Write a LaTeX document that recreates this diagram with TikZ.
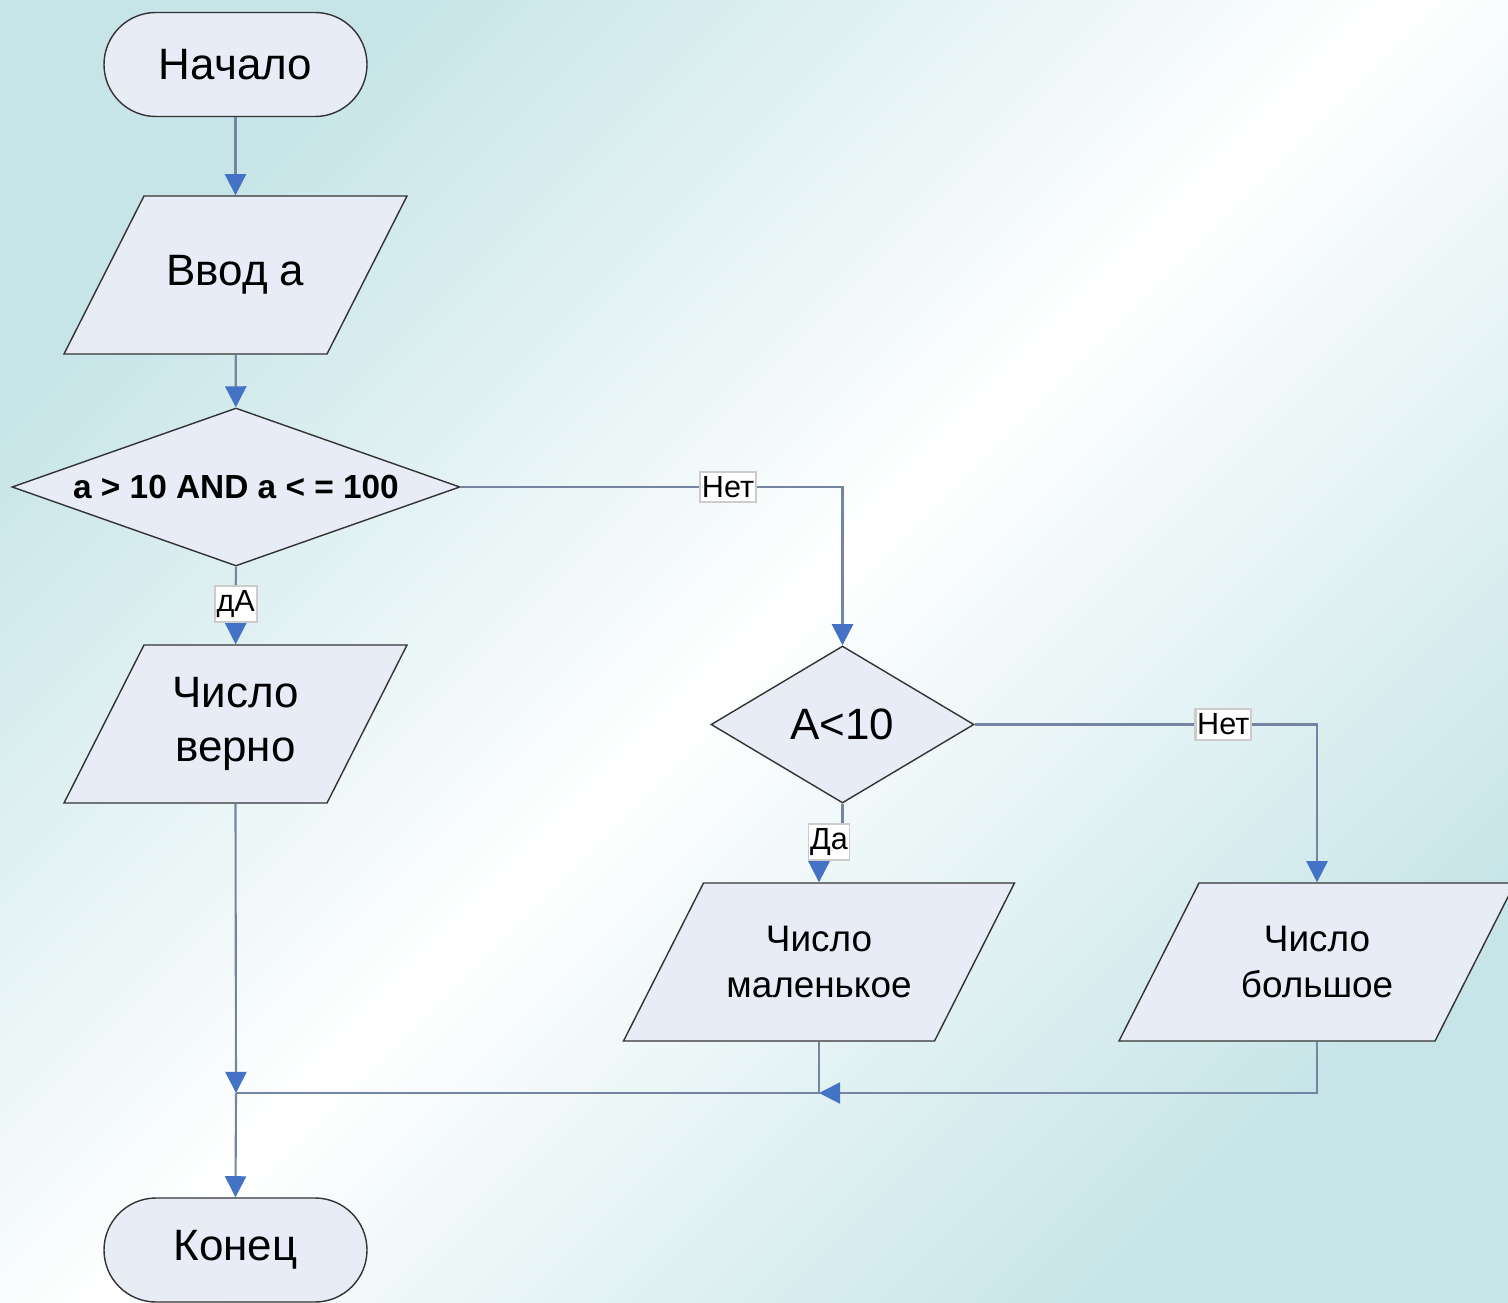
\documentclass[tikz,border=0pt]{standalone}
\usepackage{fontspec}
\setmainfont{Liberation Sans}
\usetikzlibrary{arrows.meta}
\usetikzlibrary{shapes.geometric}
\definecolor{bgteal}{RGB}{199,229,232}
\definecolor{boxfill}{RGB}{232,236,247}
\definecolor{flowline}{RGB}{118,132,164}
\definecolor{tipblue}{RGB}{68,114,196}
\tikzset{
	term/.style={draw=black!80, fill=boxfill, rounded corners=0.52cm, minimum width=2.63cm, minimum height=1.04cm, font=\fontsize{12.5}{15}\selectfont},
	shapeline/.style={draw=black!80, fill=boxfill},
	io/.style={rectangle, minimum height=1.58cm, align=center, font=\fontsize{12.5}{15.3}\selectfont},
	decide/.style={diamond, draw=black!80, fill=boxfill, inner sep=0pt, aspect=2.8},
	flow/.style={draw=flowline, line width=0.6pt, -{Triangle[length=6pt,width=6pt,color=tipblue]}},
	plain/.style={draw=flowline, line width=0.6pt},
	lbl/.style={fill=white, draw=black!20, inner xsep=0.5pt, inner ysep=1.3pt, font=\fontsize{8.7}{10}\selectfont}
}
\newcommand{\ioblock}[5][]{% [options]{name}{at}{width}{text}
	\begin{scope}[shift={(#3)}]
		\filldraw[shapeline] ({-#4/2-0.4},-0.79) -- ({#4/2-0.4},-0.79) -- ({#4/2+0.4},0.79) -- ({-#4/2+0.4},0.79) -- cycle; % parallelogram
	\end{scope}
	\node[io, minimum width=#4cm, #1] (#2) at (#3) {#5} % text
}

\begin{document}
\begin{tikzpicture}
					\useasboundingbox (0,0) rectangle (15.08,-13.03);
					\fill[left color=bgteal, right color=bgteal, middle color=white, shading angle=45] (0,0) rectangle (15.08,-13.03);

					\node[term] (start) at (2.355,-0.645) {Начало};
					\ioblock{input}{2.355,-2.75}{2.63}{Ввод а};
					\node[decide, minimum width=4.48cm, minimum height=1.58cm, font=\bfseries\fontsize{9.5}{11}\selectfont] (cond) at (2.36,-4.87) {a > 10 AND a < = 100};
					\ioblock{ok}{2.355,-7.24}{2.63}{Число\\верно};
					\node[decide, minimum width=2.63cm, minimum height=1.57cm, font=\fontsize{12.5}{15}\selectfont] (chk) at (8.425,-7.245) {A<10};
					\ioblock[font=\fontsize{10.5}{13}\selectfont]{small}{8.19,-9.62}{3.11}{Число\\маленькое};
					\ioblock[font=\fontsize{10.5}{13}\selectfont]{big}{13.17,-9.62}{3.16}{Число\\большое};
					\node[term] (end) at (2.355,-12.5) {Конец};

					\coordinate (j1) at (2.36,-10.93);
					\coordinate (j2) at (small.south |- j1);

					\draw[flow] (start) -- (input);
					\draw[flow] (input) -- (cond);
					\draw[flow] (cond) -- node[lbl, pos=0.48] (yes1) {дА} (ok);
					\draw[flow] (cond.east) -| node[lbl, pos=0.35] (no1) {Нет} (chk.north);
					\draw[flow] (chk.east) -| node[lbl, pos=0.363] (no2) {Нет} (big.north);
					\draw[flow] (chk.south) -- ++(0,-0.42) -| (small.north);
					\node[lbl] (yes2) at (8.29,-8.42) {Да};

					\draw[flow] (ok.south) -- (j1);
					\draw[flow] (j1) -- (end.north);
					\draw[plain] (small.south) |- (j1);
					\draw[flow] (big.south) |- (j2);
\end{tikzpicture}
\end{document}
